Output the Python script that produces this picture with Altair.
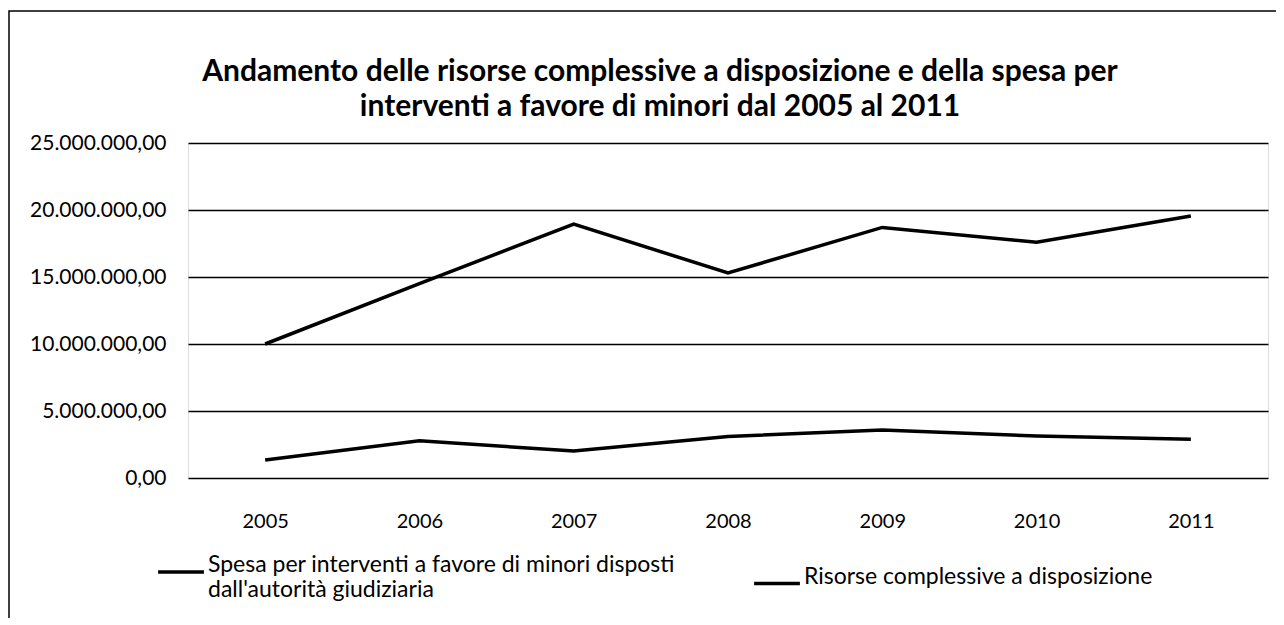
import altair as alt
import pandas as pd

years = ["2005", "2006", "2007", "2008", "2009", "2010", "2011"]
spesa = [1340000, 2780000, 2010000, 3100000, 3580000, 3130000, 2890000]
risorse = [10000000, 14500000, 18950000, 15300000, 18700000, 17600000, 19550000]
series_names = [
    "Spesa per interventi a favore di minori disposti dall'autorità giudiziaria",
    "Risorse complessive a disposizione",
]
y_ticks = [0, 5000000, 10000000, 15000000, 20000000, 25000000]

rows = []
for name, vals in zip(series_names, [spesa, risorse]):
    for yr, v in zip(years, vals):
        rows.append({"anno": yr, "valore": v, "serie": name})
df = pd.DataFrame(rows)

FONT = "Lato"

label_expr = (
    "replace(replace(replace(format(datum.value, ',.2f'), regexp(',', 'g'), '#'), '.', ','), regexp('#', 'g'), '.')"
)

legend_label_expr = (
    "datum.label == '" + series_names[0].replace("'", "\\'") + "' ? "
    "['Spesa per interventi a favore di minori disposti', 'dall\\'autorità giudiziaria'] : datum.label"
)

lines = alt.Chart(df).mark_line(strokeWidth=3.5).encode(
    x=alt.X(
        "anno:N",
        sort=years,
        scale=alt.Scale(type="point", padding=0.5),
        axis=alt.Axis(
            title=None, labelAngle=0, ticks=False, domain=False,
            labelFontSize=20, labelFont=FONT, labelColor="black",
            labelPadding=33, grid=False,
        ),
    ),
    y=alt.Y(
        "valore:Q",
        scale=alt.Scale(domain=[0, 25000000], nice=False),
        axis=alt.Axis(
            title=None, values=y_ticks, labelExpr=label_expr,
            ticks=False, domain=False, grid=True, gridColor="black",
            gridWidth=1.3, labelFontSize=21, labelFont=FONT,
            labelColor="black", labelPadding=22,
        ),
    ),
    color=alt.Color(
        "serie:N",
        sort=series_names,
        scale=alt.Scale(domain=series_names, range=["black", "black"]),
        legend=alt.Legend(
            title=None, orient="none", legendX=-32, legendY=404,
            direction="horizontal", columns=2, columnPadding=72,
            symbolType="stroke", symbolSize=2100, symbolStrokeWidth=3.5,
            labelFontSize=23, labelFont=FONT, labelColor="black",
            labelOffset=2, labelLimit=700, labelBaseline="alphabetic",
            labelExpr=legend_label_expr,
        ),
    ),
)

frame = alt.Chart(pd.DataFrame({"k": [0]})).mark_rect(
    fill=None, stroke="black", strokeWidth=1.5
).encode(
    x=alt.value(-179), x2=alt.value(1120),
    y=alt.value(-132), y2=alt.value(700),
)

chart = alt.layer(frame, lines).properties(
    width=1080,
    height=335,
    padding={"left": 180, "top": 135, "right": 8, "bottom": 140},
    autosize=alt.AutoSizeParams(type="none"),
    title=alt.Title(
        text=[
            "Andamento delle risorse complessive a disposizione e della spesa  per",
            "interventi a favore di minori dal 2005 al 2011",
        ],
        font=FONT, fontSize=30, fontWeight="bold", color="black",
        anchor="middle", frame="group", dx=-68, offset=-112, lineHeight=35,
    ),
).configure_view(stroke=None).configure(background="white")

chart.save("out.html", embed_options={"renderer": "svg", "actions": False})
